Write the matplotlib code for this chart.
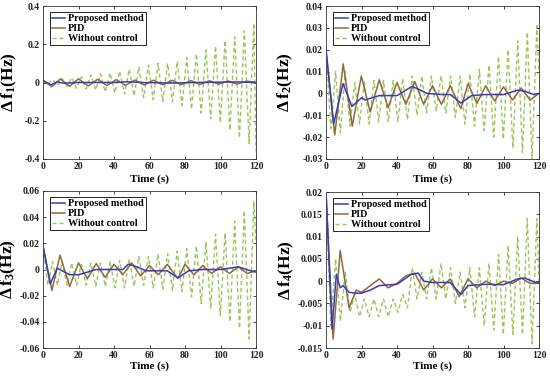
import matplotlib
matplotlib.use("Agg")
import matplotlib.pyplot as plt
from matplotlib.ticker import FixedLocator, FuncFormatter

plt.rcParams['font.family'] = ['Liberation Serif', 'DejaVu Serif']
plt.rcParams['font.weight'] = 'bold'
plt.rcParams['axes.unicode_minus'] = False
plt.rcParams['mathtext.fontset'] = 'custom'
plt.rcParams['mathtext.rm'] = 'Liberation Serif:bold'
plt.rcParams['mathtext.it'] = 'Liberation Serif:bold'
plt.rcParams['mathtext.bf'] = 'Liberation Serif:bold'

# ---------------- data ----------------
series_names = ["Proposed method", "PID", "Without control"]
x_ticks = [0, 20, 40, 60, 80, 100, 120]

# Shared time stamps of the extrema of the uncontrolled oscillation
wo_t = [0, 2.7, 5.4, 8.1, 10.8, 13.5, 16.2, 18.9, 21.6, 24.3, 27, 29.7, 32.4, 35.1,
        37.8, 40.5, 43.2, 45.9, 48.6, 51.3, 54, 56.7, 59.4, 62.1, 64.8, 67.5, 70.2,
        72.9, 75.6, 78.3, 81, 83.7, 86.4, 89.1, 91.8, 94.5, 97.2, 99.9, 102.6, 105.3,
        108, 110.7, 113.4, 116.1, 118.8, 120]

# ---- Delta f1 ----
f1_yticks = [-0.4, -0.2, 0, 0.2, 0.4]
f1_prop_t = [0, 2, 4.5, 8, 12, 20, 40, 48, 55, 75, 85, 110, 120]
f1_prop_v = [0.01, 0.0, -0.012, 0.003, -0.004, 0.0, 0.0, 0.004, 0.0, -0.003, 0.0, 0.003, 0.0]
f1_pid_t = [0, 5, 9.8, 15, 20, 25.5, 30.8, 36, 41.3, 46.5, 51.8, 57, 62.3, 67.5,
            72.8, 78, 83.3, 88.5, 93.8, 99, 104.3, 109.5, 114.8, 120]
f1_pid_v = [0.012, -0.022, 0.019, -0.02, 0.019, -0.018, 0.017, -0.016, 0.015, -0.015,
            0.013, -0.013, 0.012, -0.012, 0.011, -0.011, 0.01, -0.01, 0.009, -0.009,
            0.008, -0.008, 0.007, 0.0]
f1_wo_v = [0.01, -0.01, 0.015, -0.015, 0.02, -0.02, 0.025, -0.03, 0.03, -0.035, 0.04,
           -0.04, 0.045, -0.05, 0.05, -0.055, 0.06, -0.06, 0.07, -0.07, 0.08, -0.08,
           0.09, -0.09, 0.1, -0.1, 0.1, -0.1, 0.11, -0.12, 0.13, -0.14, 0.15, -0.16,
           0.17, -0.19, 0.19, -0.21, 0.22, -0.25, 0.24, -0.29, 0.27, -0.32, 0.31, -0.36]

# ---- Delta f2 ----
f2_yticks = [-0.03, -0.02, -0.01, 0, 0.01, 0.02, 0.03, 0.04]
f2_prop_t = [0, 4.3, 9.6, 14.6, 20, 22, 30, 40, 48.4, 52, 57, 65, 70, 76, 82, 90, 100, 108, 112, 117, 120]
f2_prop_v = [0.02, -0.014, 0.0045, -0.006, -0.002, -0.003, -0.001, -0.001, 0.0032, 0.002,
             0.0, -0.0005, -0.0005, -0.0044, -0.001, -0.0005, -0.0005, 0.0015, 0.001, -0.0005, 0.0]
f2_pid_t = [0, 4.9, 9.7, 14.8, 19.9, 24.9, 30, 35, 40, 45, 50, 55, 60, 65, 70, 76,
            80, 85, 90, 95, 100, 105, 110, 115, 120]
f2_pid_v = [0.02, -0.019, 0.0135, -0.015, 0.008, -0.0085, 0.0063, -0.0065, 0.005, -0.005,
            0.0055, -0.005, 0.0035, -0.005, 0.0035, -0.007, 0.0045, -0.0045, 0.0035,
            -0.0035, 0.003, -0.003, 0.0025, -0.003, 0.0]
f2_wo_v = [0.02, -0.016, 0.01, -0.018, 0.01, -0.015, 0.005, -0.014, 0.006, -0.014, 0.006,
           -0.013, 0.006, -0.013, 0.006, -0.013, 0.007, -0.012, 0.008, -0.01, 0.008, -0.009,
           0.008, -0.008, 0.008, -0.009, 0.008, -0.011, 0.008, -0.014, 0.009, -0.015, 0.011,
           -0.017, 0.013, -0.02, 0.017, -0.021, 0.02, -0.025, 0.024, -0.027, 0.028, -0.03,
           0.031, 0.01]

# ---- Delta f3 ----
f3_yticks = [-0.06, -0.04, -0.02, 0, 0.02, 0.04, 0.06]
f3_prop_t = [0, 4.1, 8, 15, 20, 25, 30, 45, 48, 53, 58, 70, 76, 82, 90, 100, 110, 117, 120]
f3_prop_v = [0.018, -0.011, 0.001, -0.004, -0.004, -0.002, 0.0, 0.0, 0.004, 0.002, -0.001,
             -0.001, -0.0064, -0.001, 0.0, 0.0, 0.002, -0.001, -0.002]
f3_pid_t = [0, 5, 9.6, 15, 20, 25, 30, 35, 40, 45, 50, 55, 60, 65, 70, 76, 80, 85,
            90, 95, 100, 105, 110, 115, 120]
f3_pid_v = [0.018, -0.016, 0.011, -0.013, 0.005, -0.007, 0.0045, -0.006, 0.004, -0.004,
            0.005, -0.005, 0.003, -0.004, 0.004, -0.007, 0.004, -0.004, 0.003, -0.003,
            0.002, -0.003, 0.002, -0.003, -0.001]
f3_wo_v = [0.018, -0.012, 0.006, -0.012, 0.006, -0.012, 0.005, -0.012, 0.004, -0.012,
           0.005, -0.013, 0.005, -0.013, 0.006, -0.014, 0.007, -0.014, 0.008, -0.013, 0.01,
           -0.012, 0.01, -0.014, 0.012, -0.015, 0.012, -0.016, 0.014, -0.017, 0.016, -0.021,
           0.018, -0.026, 0.021, -0.03, 0.027, -0.035, 0.028, -0.04, 0.037, -0.045, 0.045,
           -0.053, 0.052, 0.02]

# ---- Delta f4 ----
f4_yticks = [-0.015, -0.01, -0.005, 0, 0.005, 0.01, 0.015, 0.02]
f4_prop_t = [0, 3.4, 5.8, 8, 9.5, 13, 17, 20, 25, 30, 40, 48, 52, 55, 60, 70, 76, 80,
             90, 100, 108, 112, 118, 120]
f4_prop_v = [0.02, -0.0108, 0.0015, -0.0015, -0.001, -0.0025, -0.0027, -0.0027, -0.002,
             -0.001, -0.0007, 0.0015, 0.0018, 0.0, -0.0003, -0.0003, -0.003, -0.001,
             -0.0007, -0.0008, 0.0005, 0.0007, -0.0003, -0.0003]
f4_pid_t = [0, 4, 8, 13, 17, 20, 25, 30, 35, 40, 45, 50, 55, 60, 65, 70, 75, 80, 85,
            90, 95, 100, 105, 110, 115, 120]
f4_pid_v = [0.02, -0.013, 0.0069, -0.006, -0.002, -0.0025, -0.001, 0.0005, -0.0015,
            -0.0005, 0.0012, 0.0018, -0.002, 0.0005, -0.0015, 0.0005, -0.0035, 0.0005,
            -0.0015, 0.0, -0.001, 0.0, -0.0005, 0.0007, -0.0005, -0.0005]
f4_wo_v = [0.02, -0.01, 0.005, -0.009, 0.002, -0.007, -0.003, -0.008, -0.004, -0.008,
           -0.004, -0.008, -0.004, -0.008, -0.004, -0.007, -0.003, -0.006, 0.003, -0.004,
           0.002, -0.004, 0.003, -0.004, 0.004, -0.004, 0.003, -0.005, 0.002, -0.006,
           0.003, -0.008, 0.003, -0.01, 0.004, -0.011, 0.006, -0.012, 0.008, -0.012, 0.01,
           -0.012, 0.014, -0.014, 0.014, 0.0]

panels = [
    dict(label=r'$\Delta\,\mathrm{f}_1(\mathrm{Hz})$', yticks=f1_yticks,
         prop=(f1_prop_t, f1_prop_v), pid=(f1_pid_t, f1_pid_v), wo=f1_wo_v,
         rect=[43, 6, 256, 159], labx=-0.112),
    dict(label=r'$\Delta\,\mathrm{f}_2(\mathrm{Hz})$', yticks=f2_yticks,
         prop=(f2_prop_t, f2_prop_v), pid=(f2_pid_t, f2_pid_v), wo=f2_wo_v,
         rect=[326, 6, 539, 159], labx=-0.146),
    dict(label=r'$\Delta\,\mathrm{f}_3(\mathrm{Hz})$', yticks=f3_yticks,
         prop=(f3_prop_t, f3_prop_v), pid=(f3_pid_t, f3_pid_v), wo=f3_wo_v,
         rect=[43, 191, 256, 348], labx=-0.118),
    dict(label=r'$\Delta\,\mathrm{f}_4(\mathrm{Hz})$', yticks=f4_yticks,
         prop=(f4_prop_t, f4_prop_v), pid=(f4_pid_t, f4_pid_v), wo=f4_wo_v,
         rect=[326, 192, 539, 348], labx=-0.142),
]

c_prop = '#3a3ab8'
c_pid = '#93683e'
c_wo = '#98c85a'

W, H = 550, 378
fig = plt.figure(figsize=(W / 100, H / 100), dpi=100)

fmt = FuncFormatter(lambda v, p: '0' if abs(v) < 1e-12 else ('%g' % v))

for pnl in panels:
    l, t, r, b = pnl['rect']
    ax = fig.add_axes([l / W, 1 - b / H, (r - l) / W, (b - t) / H])
    hw, = ax.plot(wo_t, pnl['wo'], color=c_wo, lw=1.0, ls=(0, (3, 2)), zorder=2)
    hp, = ax.plot(pnl['pid'][0], pnl['pid'][1], color=c_pid, lw=1.1, zorder=3)
    hb, = ax.plot(pnl['prop'][0], pnl['prop'][1], color=c_prop, lw=1.1, zorder=4)
    yt = pnl['yticks']
    ax.set_xlim(x_ticks[0], x_ticks[-1])
    ax.set_ylim(yt[0], yt[-1])
    ax.xaxis.set_major_locator(FixedLocator(x_ticks))
    ax.yaxis.set_major_locator(FixedLocator(yt))
    ax.yaxis.set_major_formatter(fmt)
    ax.xaxis.set_major_formatter(fmt)
    ax.tick_params(direction='in', length=2.5, width=0.6, labelsize=7, pad=2.5,
                   top=True, right=True, colors='#222222')
    for lab in ax.get_xticklabels() + ax.get_yticklabels():
        lab.set_fontweight('bold')
    for s in ax.spines.values():
        s.set_linewidth(0.6)
        s.set_color('#333333')
    ax.set_xlabel('Time (s)', fontsize=8, fontweight='bold')
    ax.xaxis.set_label_coords(0.5, -0.10 if t < 100 else -0.085)
    ax.xaxis.label.set_va('top')
    ax.set_ylabel(pnl['label'], fontsize=12.5)
    ax.yaxis.set_label_coords(pnl['labx'], 0.5)
    leg = ax.legend([hb, hp, hw], series_names, loc='upper left',
                    bbox_to_anchor=(7 / 213, 1 - 6 / (b - t)), borderaxespad=0,
                    prop={'family': 'Liberation Serif', 'weight': 'bold', 'size': 7.3},
                    handlelength=1.3, handletextpad=0.3, borderpad=0.2,
                    labelspacing=0.1, fancybox=False, framealpha=1, edgecolor='black')
    leg.get_frame().set_linewidth(0.6)

fig.savefig('out.png', dpi=100)
